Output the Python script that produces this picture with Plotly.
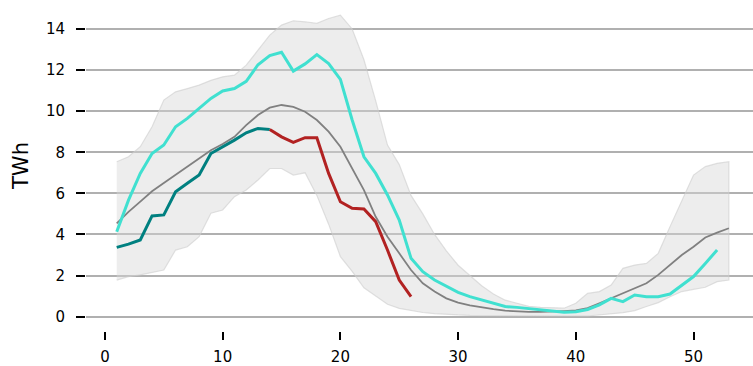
import plotly.graph_objects as go

weeks = list(range(1, 54))

band_max = [7.54, 7.78, 8.27, 9.24, 10.54, 10.94, 11.1, 11.27, 11.5, 11.67,
            11.75, 12.24, 12.97, 13.7, 14.19, 14.4, 14.35, 14.27, 14.51, 14.67,
            14.0, 12.5, 10.5, 8.35, 7.4, 5.9, 5.0, 4.0, 3.2, 2.5,
            2.0, 1.5, 1.1, 0.8, 0.65, 0.5, 0.45, 0.42, 0.41, 0.65,
            1.13, 1.22, 1.54, 2.35, 2.51, 2.59, 3.08, 4.38, 5.67, 6.89,
            7.3, 7.46, 7.54]
band_min = [1.78, 1.95, 2.03, 2.14, 2.27, 3.24, 3.4, 3.89, 5.03, 5.19,
            5.84, 6.16, 6.65, 7.21, 7.21, 6.89, 7.0, 5.9, 4.5, 2.92,
            2.2, 1.4, 1.0, 0.6, 0.4, 0.3, 0.2, 0.15, 0.1, 0.08,
            0.06, 0.05, 0.05, 0.04, 0.04, 0.04, 0.03, 0.03, 0.03, 0.03,
            0.03, 0.08, 0.13, 0.19, 0.29, 0.49, 0.68, 0.97, 1.22, 1.33,
            1.43, 1.7, 1.78]
mean = [4.54, 5.1, 5.6, 6.1, 6.5, 6.9, 7.3, 7.7, 8.1, 8.4,
        8.75, 9.32, 9.81, 10.17, 10.3, 10.21, 9.97, 9.57, 9.0, 8.27,
        7.2, 6.16, 4.86, 3.89, 3.08, 2.27, 1.62, 1.22, 0.89, 0.68,
        0.55, 0.45, 0.36, 0.29, 0.25, 0.23, 0.23, 0.24, 0.27, 0.3,
        0.41, 0.65, 0.89, 1.13, 1.38, 1.62, 2.03, 2.51, 3.0, 3.4,
        3.85, 4.09, 4.3]

prev_weeks = list(range(1, 53))
prev_year = [4.13, 5.67, 6.97, 7.94, 8.35, 9.24, 9.65, 10.13, 10.62, 10.98,
             11.1, 11.45, 12.26, 12.7, 12.87, 11.95, 12.3, 12.75, 12.32, 11.55,
             9.57, 7.78, 6.97, 5.92, 4.70, 2.84, 2.19, 1.78, 1.46, 1.18,
             0.97, 0.81, 0.62, 0.49, 0.45, 0.39, 0.32, 0.28, 0.21, 0.24,
             0.35, 0.57, 0.89, 0.73, 1.05, 0.97, 0.97, 1.1, 1.54, 1.95,
             2.59, 3.24]

cur_weeks = list(range(1, 15))
cur_year = [3.37, 3.53, 3.73, 4.9, 4.95, 6.08, 6.49, 6.89, 7.94, 8.25,
            8.59, 8.95, 9.16, 9.11]

low_weeks = list(range(14, 27))
low_year = [9.11, 8.75, 8.48, 8.71, 8.71, 6.97, 5.59, 5.27, 5.24, 4.62,
            3.24, 1.78, 0.97]

y_ticks = [0, 2, 4, 6, 8, 10, 12, 14]
x_ticks = [0, 10, 20, 30, 40, 50]

fig = go.Figure()
fig.add_trace(go.Scatter(
    x=weeks + weeks[::-1], y=band_max + band_min[::-1],
    fill="toself", fillcolor="rgba(215,215,215,0.45)",
    line=dict(color="rgba(205,205,205,0.6)", width=1.2),
    mode="lines", hoverinfo="skip", showlegend=False))
fig.add_trace(go.Scatter(x=weeks, y=mean, mode="lines",
                         line=dict(color="#808080", width=1.8), showlegend=False))
fig.add_trace(go.Scatter(x=prev_weeks, y=prev_year, mode="lines",
                         line=dict(color="#40E0D0", width=3), showlegend=False))
fig.add_trace(go.Scatter(x=cur_weeks, y=cur_year, mode="lines",
                         line=dict(color="#008080", width=3), showlegend=False))
fig.add_trace(go.Scatter(x=low_weeks, y=low_year, mode="lines",
                         line=dict(color="#B22222", width=3), showlegend=False))

fig.update_layout(
    width=753, height=366,
    margin=dict(l=86, r=0, t=0, b=35),
    paper_bgcolor="white", plot_bgcolor="white",
    font=dict(family="DejaVu Sans", size=15, color="black"),
    showlegend=False,
)
fig.update_xaxes(
    range=[-1.61, 55.05], tickvals=x_ticks, ticktext=[str(t) for t in x_ticks],
    showgrid=False, zeroline=False, showline=False, automargin=False,
    ticks="outside", ticklen=8, tickwidth=2, tickcolor="black",
    ticklabelstandoff=4, tickfont=dict(size=15))
fig.update_yaxes(
    range=[-0.7, 15.41], tickvals=y_ticks, ticktext=[str(t) for t in y_ticks],
    showgrid=True, gridcolor="#b0b0b0", gridwidth=2,
    zeroline=False, showline=False, automargin=False,
    ticks="outside", ticklen=9, tickwidth=2, tickcolor="black",
    ticklabelstandoff=8, tickfont=dict(size=15),
    title=dict(text="TWh", font=dict(size=21), standoff=11))

fig.write_html(
    "out.html",
    config={"displayModeBar": False},
    post_script="document.body.style.margin='0';document.body.style.overflow='hidden';",
)
